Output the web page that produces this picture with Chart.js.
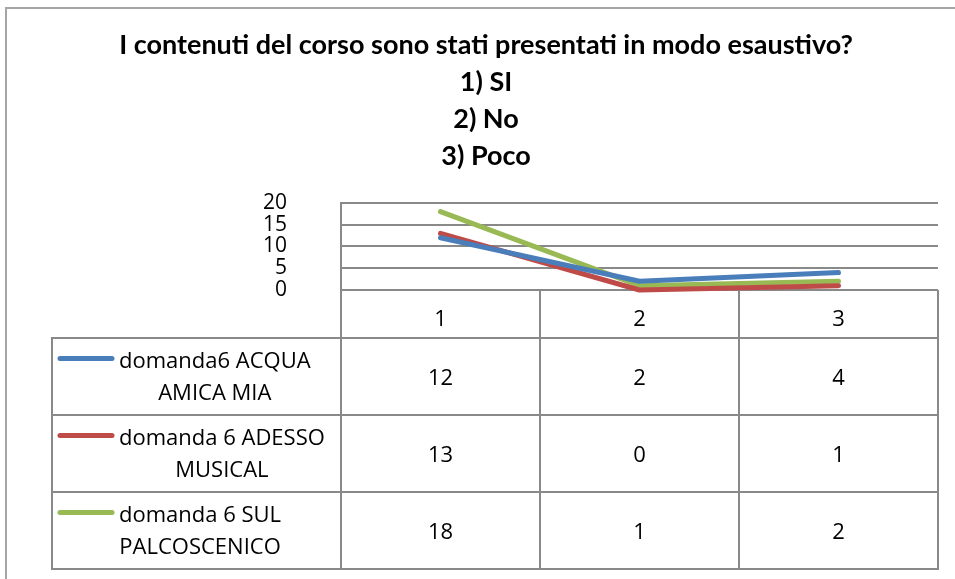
<!DOCTYPE html>
<html>
<head>
<meta charset="utf-8">
<script src="https://cdn.jsdelivr.net/npm/chart.js@4/dist/chart.umd.min.js"></script>
<style>
  html, body { margin: 0; padding: 0; background: #fff; }
  #chart { display: block; }
</style>
</head>
<body>
<canvas id="chart" width="955" height="579"></canvas>
<script>
// data
var categories = ['1', '2', '3'];
var acquaAmica = [12, 2, 4];
var adessoMusical = [13, 0, 1];
var sulPalcoscenico = [18, 1, 2];
var seriesLabels = [
    ['domanda6 ACQUA', 'AMICA MIA'],
    ['domanda 6 ADESSO', 'MUSICAL'],
    ['domanda 6 SUL', 'PALCOSCENICO']
];
var titleLines = [
    'I contenuti del corso sono stati presentati in modo esaustivo?',
    '1) SI',
    '2) No',
    '3) Poco'
];

var gridColor = '#898989';
var tableFont = '22px "Open Sans"';

// draws the outer frame and the Excel-like data table under the plot
var dataTable = {
    id: 'dataTable',
    beforeDatasetsDraw: function (chart) {
        var ctx = chart.ctx;
        var area = chart.chartArea;
        var x = chart.scales.x;
        var step = x.getPixelForValue(1) - x.getPixelForValue(0);
        var colEdges = [];
        for (var i = 0; i <= categories.length; i++) {
            colEdges.push(x.getPixelForValue(0) - step / 2 + i * step);
        }
        var headerBottom = area.bottom + 48;
        var rowH = 77;
        var legendLeft = 52;
        var tableBottom = headerBottom + rowH * chart.data.datasets.length;

        ctx.save();
        // outer frame
        ctx.strokeStyle = '#a6a6a6';
        ctx.lineWidth = 2;
        ctx.beginPath();
        ctx.moveTo(6, 579);
        ctx.lineTo(6, 8);
        ctx.lineTo(955, 8);
        ctx.stroke();

        // table grid
        ctx.strokeStyle = gridColor;
        ctx.lineWidth = 2;
        ctx.beginPath();
        colEdges.forEach(function (cx, i) {
            ctx.moveTo(cx, i === 0 ? area.top : area.bottom);
            ctx.lineTo(cx, tableBottom);
        });
        ctx.moveTo(legendLeft, headerBottom);
        ctx.lineTo(legendLeft, tableBottom);
        for (var r = 0; r <= chart.data.datasets.length; r++) {
            var ry = headerBottom + r * rowH;
            ctx.moveTo(legendLeft - 1, ry);
            ctx.lineTo(colEdges[colEdges.length - 1] + 1, ry);
        }
        ctx.stroke();

        // rows: legend key, series name, values
        ctx.fillStyle = '#000';
        ctx.font = tableFont;
        ctx.textBaseline = 'middle';
        chart.data.datasets.forEach(function (ds, r) {
            var top = headerBottom + r * rowH;
            var mid = top + rowH / 2;
            var lines = seriesLabels[r];
            ctx.strokeStyle = ds.borderColor;
            ctx.lineWidth = 5;
            ctx.lineCap = 'round';
            ctx.beginPath();
            ctx.moveTo(60, mid - 18);
            ctx.lineTo(112, mid - 18);
            ctx.stroke();

            var maxW = 0;
            lines.forEach(function (t) { maxW = Math.max(maxW, ctx.measureText(t).width); });
            ctx.textAlign = 'center';
            lines.forEach(function (t, k) {
                ctx.fillText(t, 119 + maxW / 2, mid - 15 + k * 32);
            });
            ds.data.forEach(function (v, c) {
                ctx.fillText(String(v), x.getPixelForValue(c), mid + 2);
            });
        });
        ctx.restore();
    }
};

function lineSet(label, data, color) {
    return {
        label: label,
        data: data,
        borderColor: color,
        backgroundColor: color,
        borderWidth: 5,
        pointRadius: 0,
        tension: 0,
        borderCapStyle: 'round',
        borderJoinStyle: 'round',
        clip: false
    };
}

var ctx = document.getElementById('chart');
var chart = new Chart(ctx, {
    type: 'line',
    data: {
        labels: categories,
        datasets: [
            lineSet(seriesLabels[0].join(' '), acquaAmica, '#4a7ebb'),
            lineSet(seriesLabels[1].join(' '), adessoMusical, '#be4b48'),
            lineSet(seriesLabels[2].join(' '), sulPalcoscenico, '#98b954')
        ]
    },
    options: {
        responsive: false,
        devicePixelRatio: 1,
        animation: false,
        layout: { padding: { left: 34, right: 17, top: 0, bottom: 0 } },
        plugins: {
            legend: { display: false },
            tooltip: { enabled: false },
            title: {
                display: true,
                text: titleLines,
                color: '#000',
                font: { family: 'Lato', weight: 'bold', size: 27, lineHeight: 1.37 },
                padding: { top: 27, bottom: 28 }
            }
        },
        scales: {
            x: {
                offset: true,
                grid: { display: false, drawTicks: false },
                border: { display: false },
                ticks: { color: '#000', font: { family: '"Open Sans"', size: 22 }, padding: 17 },
                afterFit: function (s) { s.height = 289; }
            },
            y: {
                min: 0,
                max: 20,
                grid: { color: gridColor, lineWidth: 2, drawTicks: false },
                border: { display: true, color: gridColor, width: 2 },
                ticks: {
                    stepSize: 5,
                    autoSkip: false,
                    color: '#000',
                    font: { family: '"Open Sans"', size: 21, lineHeight: 1 },
                    padding: 54
                },
                afterFit: function (s) { s.width = 307; }
            }
        }
    },
    plugins: [dataTable]
});
</script>
</body>
</html>
